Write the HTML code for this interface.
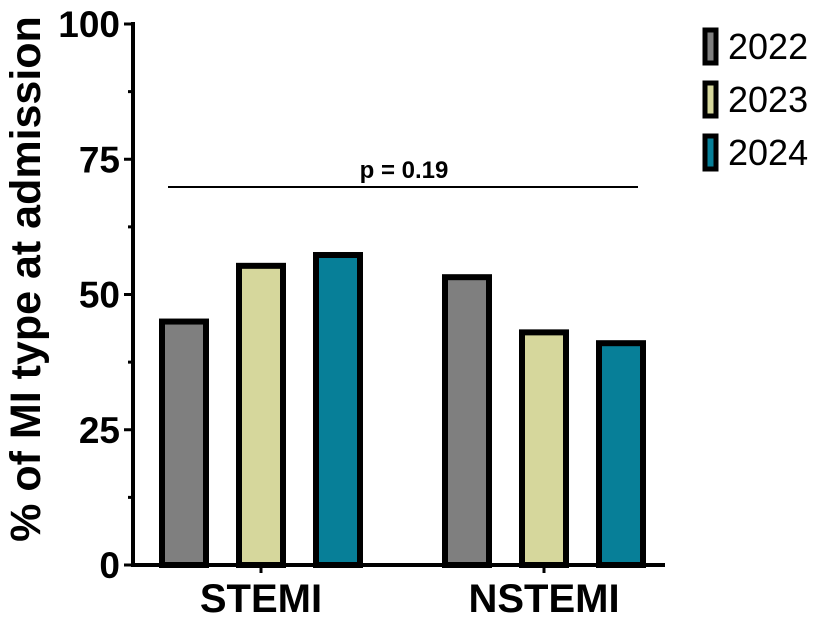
<!DOCTYPE html>
<html><head><meta charset="utf-8"><style>
body{margin:0;background:#fff;}
text{font-family:"Liberation Sans",Arial,sans-serif;}
</style></head><body>
<svg id="chart" width="825" height="618" viewBox="0 0 825 618">
<g id="g"></g>
</svg>
<script>
const categories=["STEMI","NSTEMI"];
const years=["2022","2023","2024"];
const colors=["#7f7f7f","#d6d79c","#077f98"];
const values2022=[45,53.2];
const values2023=[55.3,43];
const values2024=[57.3,41];
const series=[values2022,values2023,values2024];
const yTicks=[0,25,50,75,100];
const pLabel="p = 0.19";

const NS="http://www.w3.org/2000/svg";
const g=document.getElementById('g');
const y0=565,pxPer=5.41,axisX=133;
function y(v){return y0-v*pxPer;}
const catCenter=[261,544],barStep=77,barW=44;
function mk(tag,attrs,parent){const e=document.createElementNS(NS,tag);for(const k in attrs)e.setAttribute(k,attrs[k]);(parent||g).appendChild(e);return e;}

categories.forEach((c,ci)=>{
  series.forEach((s,si)=>{
    const cx=catCenter[ci]+(si-1)*barStep;
    const r=mk('rect',{x:cx-barW/2,y:y(s[ci]),width:barW,height:y0-y(s[ci]),fill:colors[si],stroke:'#000','stroke-width':6});
    
    
  });
  const t=mk('text',{x:catCenter[ci],y:612,'text-anchor':'middle','font-size':40,'font-weight':'bold'});
  t.textContent=c;
  
  
  const tk=mk('line',{x1:catCenter[ci],x2:catCenter[ci],y1:y0,y2:y0+8,stroke:'#000','stroke-width':3});
  
  
});
const ya=mk('line',{x1:axisX,x2:axisX,y1:y(100)-2,y2:y0+2,stroke:'#000','stroke-width':4});


const xa=mk('line',{x1:axisX-2,x2:665,y1:y0,y2:y0,stroke:'#000','stroke-width':4});


for(let v=0;v<=100;v+=12.5){
  const major=v%25===0;
  const l=mk('line',{x1:axisX-(major?9:5),x2:axisX,y1:y(v),y2:y(v),stroke:'#000','stroke-width':3});
  
  
}
yTicks.forEach(v=>{
  const t=mk('text',{x:120,y:y(v)+13,'text-anchor':'end','font-size':37,'font-weight':'bold'});
  t.textContent=v;
  
  
});
const yt=mk('text',{x:0,y:0,transform:'translate(40,279) rotate(-90)','text-anchor':'middle','font-size':43,'font-weight':'bold'});
yt.textContent='% of MI type at admission';


const pl=mk('line',{x1:168,x2:638,y1:187,y2:187,stroke:'#000','stroke-width':2});


const pt=mk('text',{x:404,y:178,'text-anchor':'middle','font-size':24,'font-weight':'bold'});
pt.textContent=pLabel;


years.forEach((yr,i)=>{
  const cy=46+i*53;
  const r=mk('rect',{x:705,y:cy-16,width:11,height:33,fill:colors[i],stroke:'#000','stroke-width':5});
  
  
  const t=mk('text',{x:728,y:cy+13,'font-size':36});
  t.textContent=yr;
  
  
});
</script>
</body></html>
